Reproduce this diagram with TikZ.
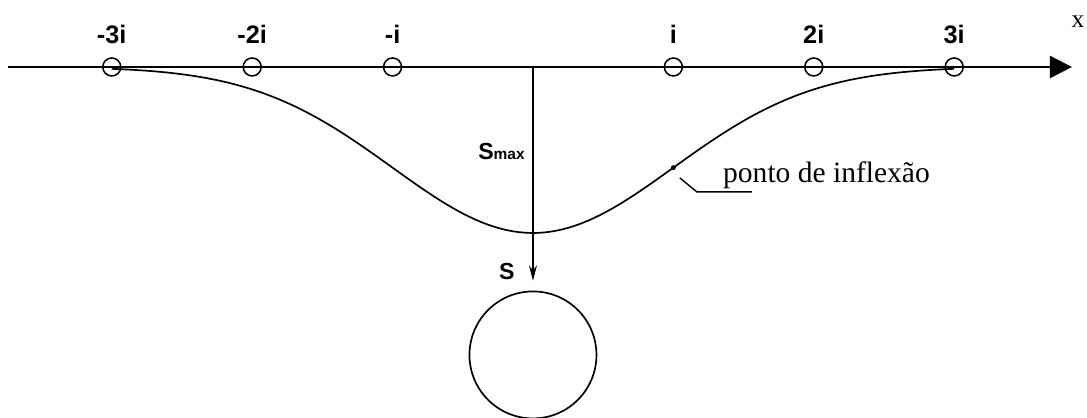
\documentclass[tikz,border=0pt]{standalone}
\usepackage{fontspec}
\setmainfont{Liberation Serif}
\setsansfont{Liberation Sans}
\usetikzlibrary{positioning, calc, arrows.meta}

\begin{document}
\begin{tikzpicture}[x=3.51cm, y=3.51cm, >=Stealth,
    pt/.style={draw, circle, line width=1.1pt, minimum size=0.45cm, inner sep=0pt},
    lbl/.style={font=\sffamily\bfseries\fontsize{18}{18}\selectfont, inner sep=0pt}]
    % Frame
    \useasboundingbox (-3.796,-2.5) rectangle (3.946,0.477);

    % Axis
    \coordinate (xl) at (-3.739,0);
    \coordinate (xr) at (3.839,0);
    \draw[line width=1.6pt, -{Triangle[length=5.5mm,width=5.5mm]}] (xl) -- (xr);
    \node[font=\fontsize{18}{18}\selectfont, inner sep=0pt] (xlab) at (3.882,0.3205) {x};

    % Points on the axis
    \foreach \k/\t [count=\n] in {-3/-3i, -2/-2i, -1/-i, 1/i, 2/2i, 3/3i} {
        \node[pt] (c\n) at (\k,0) {};
        \node[lbl, above=0.33cm of c\n] (l\n) {\t};
    }

    % Settlement trough
    \draw[line width=1.2pt, smooth, domain=-3:3, samples=80] plot (\x, {-1.182*exp(-0.5*(\x)^2)});

    % Inflection point
    \node[circle, fill, inner sep=0pt, minimum size=3.5pt] (ip) at (1,{-1.182*exp(-0.5)}) {};
    \node[anchor=base west, inner sep=0pt, font=\fontsize{21}{21}\selectfont] (pi) at (1.353,-0.826) {ponto de inflexão};
    \coordinate (la) at ([xshift=-0.65cm,yshift=-0.225cm]pi.base west);
    \coordinate (lb) at ([xshift=0.725cm,yshift=-0.225cm]pi.base west);
    \coordinate (lc) at ([xshift=-1.075cm,yshift=0.125cm]pi.base west);
    \draw[line width=1pt] (lc) -- (la) -- (lb);

    % Tunnel
    \coordinate (o) at (0,0);
    \node[draw, circle, line width=1.2pt, minimum size=3.175cm, inner sep=0pt] (tunnel) at (0,-2.051) {};

    % Smax and S
    \draw[line width=1pt, -{Stealth[length=3.8mm,width=2mm]}] (o) -- ([yshift=0.25cm]tunnel.north);
    \node[anchor=base east, inner sep=0pt, font=\sffamily\bfseries] (smax) at ([xshift=-0.2cm]0,-0.662)
        {{\fontsize{16.5}{16.5}\selectfont S}{\fontsize{11}{11}\selectfont max}};
    \node[anchor=base east, inner sep=0pt, font=\sffamily\bfseries\fontsize{16.5}{16.5}\selectfont] (s) at ([xshift=-0.45cm]0,-1.517) {S};
\end{tikzpicture}
\end{document}
